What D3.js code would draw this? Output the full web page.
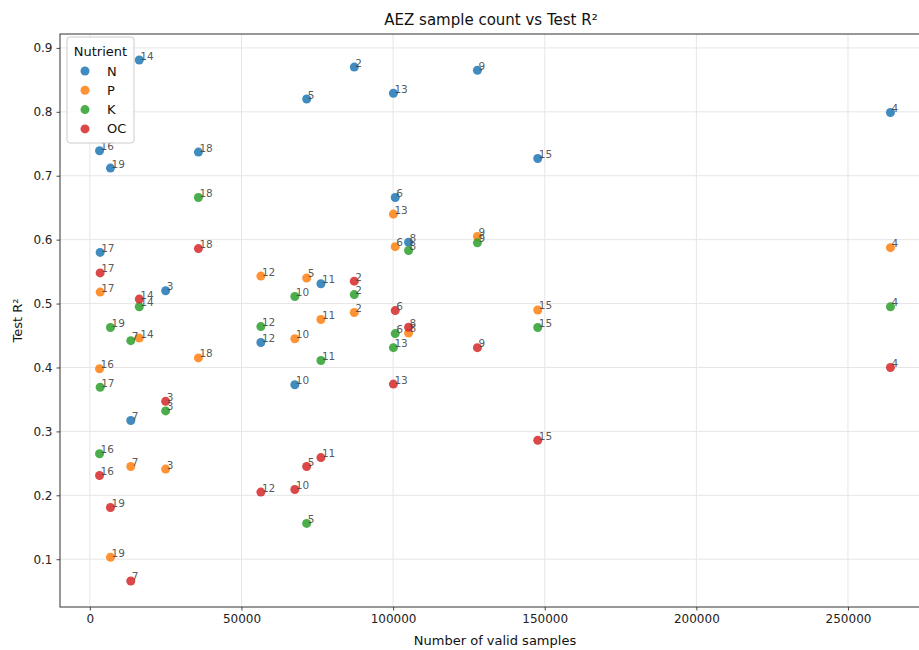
<!DOCTYPE html>
<html>
<head>
<meta charset="utf-8">
<script src="https://cdn.jsdelivr.net/npm/d3@7"></script>
<style>
  html, body { margin: 0; padding: 0; background: #fff; }
  svg { display: block; font-family: "DejaVu Sans", sans-serif; }
</style>
</head>
<body>
<svg id="chart" width="919" height="650"></svg>
<script>
// AEZ identifiers and their number of valid samples
const aez = [2, 3, 4, 5, 6, 7, 8, 9, 10, 11, 12, 13, 14, 15, 16, 17, 18, 19];
const samples = [87200, 25000, 264000, 71500, 100700, 13500, 105100, 127800, 67600,
                 76200, 56400, 100100, 16300, 147700, 3200, 3400, 35800, 6800];

// Test R² per nutrient, in the same AEZ order
const r2N  = [0.870, 0.520, 0.799, 0.820, 0.666, 0.317, 0.596, 0.865, 0.373,
              0.531, 0.439, 0.829, 0.881, 0.727, 0.739, 0.580, 0.737, 0.712];
const r2P  = [0.486, 0.241, 0.5875, 0.540, 0.589, 0.245, 0.454, 0.605, 0.445,
              0.475, 0.543, 0.640, 0.446, 0.490, 0.398, 0.518, 0.415, 0.103];
const r2K  = [0.514, 0.332, 0.495, 0.156, 0.453, 0.442, 0.583, 0.595, 0.511,
              0.411, 0.464, 0.431, 0.495, 0.4625, 0.265, 0.369, 0.666, 0.4625];
const r2OC = [0.535, 0.347, 0.400, 0.245, 0.489, 0.066, 0.463, 0.431, 0.209,
              0.259, 0.205, 0.374, 0.507, 0.286, 0.231, 0.548, 0.586, 0.181];

const nutrients = ["N", "P", "K", "OC"];
const colors = ["#1f77b4", "#ff7f0e", "#2ca02c", "#d62728"];
const seriesValues = [r2N, r2P, r2K, r2OC];

const xTicks = [0, 50000, 100000, 150000, 200000, 250000];
const yTicks = [0.1, 0.2, 0.3, 0.4, 0.5, 0.6, 0.7, 0.8, 0.9];

const plot = { left: 60, right: 930, top: 34, bottom: 607 };

const svg = d3.select("#chart");

// 5% padding on both axes
function padded(ext) {
  const d = ext[1] - ext[0];
  return [ext[0] - 0.05 * d, ext[1] + 0.05 * d];
}
const allR2 = seriesValues.flat();
const x = d3.scaleLinear().domain(padded(d3.extent(samples))).range([plot.left, plot.right]);
const y = d3.scaleLinear().domain(padded(d3.extent(allR2))).range([plot.bottom, plot.top]);

// grid
const grid = svg.append("g");
grid.selectAll("line.gx").data(xTicks).join("line")
  .attr("x1", d => x(d)).attr("x2", d => x(d))
  .attr("y1", plot.top).attr("y2", plot.bottom)
  .attr("stroke", "#e6e6e6").attr("stroke-width", 1);
grid.selectAll("line.gy").data(yTicks).join("line")
  .attr("x1", plot.left).attr("x2", plot.right)
  .attr("y1", d => y(d)).attr("y2", d => y(d))
  .attr("stroke", "#e6e6e6").attr("stroke-width", 1);

// axes
const xAxis = d3.axisBottom(x).tickValues(xTicks).tickFormat(d3.format("d")).tickSize(3.5).tickPadding(4);
const yAxis = d3.axisLeft(y).tickValues(yTicks).tickFormat(d3.format(".1f")).tickSize(3.5).tickPadding(4);

const gx = svg.append("g").attr("transform", `translate(0,${plot.bottom})`).call(xAxis);
const gy = svg.append("g").attr("transform", `translate(${plot.left},0)`).call(yAxis);
[gx, gy].forEach(g => {
  g.select(".domain").remove();
  g.selectAll(".tick line").attr("stroke", "#333").attr("stroke-width", 0.9);
  g.selectAll(".tick text").attr("fill", "#222").style("font-size", "12px")
    .style("font-family", "DejaVu Sans, sans-serif");
});

// frame
svg.append("rect")
  .attr("x", plot.left).attr("y", plot.top)
  .attr("width", plot.right - plot.left).attr("height", plot.bottom - plot.top)
  .attr("fill", "none").attr("stroke", "#333").attr("stroke-width", 1);

// points
const pts = [];
seriesValues.forEach((vals, si) => {
  vals.forEach((v, i) => pts.push({ s: si, aez: aez[i], n: samples[i], r2: v }));
});

svg.append("g").selectAll("circle").data(pts).join("circle")
  .attr("cx", d => x(d.n)).attr("cy", d => y(d.r2)).attr("r", 4.5)
  .attr("fill", d => colors[d.s]).attr("fill-opacity", 0.85);

// AEZ labels next to each point
svg.append("g").selectAll("text").data(pts).join("text")
  .attr("x", d => x(d.n) + 1).attr("y", d => y(d.r2) - 0.5)
  .text(d => d.aez)
  .attr("fill", "#444").attr("fill-opacity", 0.9)
  .style("font-size", "10.5px");

// titles
svg.append("text").attr("x", (plot.left + plot.right) / 2 - 4).attr("y", 25)
  .attr("text-anchor", "middle").attr("fill", "#111").style("font-size", "15px")
  .text("AEZ sample count vs Test R²");
svg.append("text").attr("x", (plot.left + plot.right) / 2).attr("y", 645)
  .attr("text-anchor", "middle").attr("fill", "#111").style("font-size", "13px")
  .text("Number of valid samples");
svg.append("text").attr("transform", `translate(22,${(plot.top + plot.bottom) / 2}) rotate(-90)`)
  .attr("text-anchor", "middle").attr("fill", "#111").style("font-size", "13px")
  .text("Test R²");

// legend
const lg = svg.append("g").attr("transform", "translate(67,37)");
lg.append("rect").attr("width", 67).attr("height", 106).attr("rx", 3)
  .attr("fill", "#fff").attr("fill-opacity", 0.8).attr("stroke", "#ccc");
lg.append("text").attr("x", 33.5).attr("y", 19).attr("text-anchor", "middle")
  .attr("fill", "#111").style("font-size", "13px").text("Nutrient");
const items = lg.selectAll("g.item").data(nutrients).join("g")
  .attr("transform", (d, i) => `translate(0,${34 + i * 19.3})`);
items.append("circle").attr("cx", 18).attr("cy", 0).attr("r", 4.5)
  .attr("fill", (d, i) => colors[i]).attr("fill-opacity", 0.85);
items.append("text").attr("x", 40).attr("y", 4.5).attr("fill", "#111")
  .style("font-size", "13px").text(d => d);
</script>
</body>
</html>
